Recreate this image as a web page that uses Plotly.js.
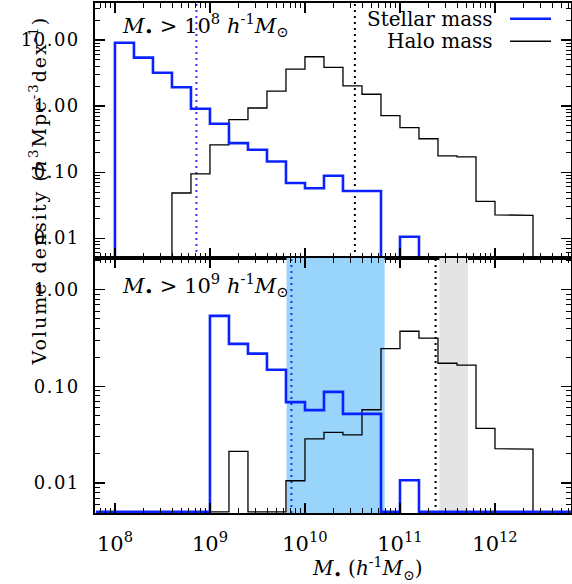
<!DOCTYPE html>
<html>
<head>
<meta charset="utf-8">
<script src="https://cdn.plot.ly/plotly-3.0.1.min.js"></script>
<style>html,body{margin:0;padding:0;background:#fff;}#chart{width:572px;height:584px;}</style>
</head>
<body>
<div id="chart"></div>
<script>
// ---- DATA ----
// log10 bin edges: first edge and bin width (dex)
var binStartLog = 7.8;
var binWidthLog = 0.2;
// Top panel (M* > 1e8): volume density per bin (0 = empty bin)
var topStellar = [0, 9.1, 5.4, 3.2, 1.93, 0.91, 0.54, 0.275, 0.218, 0.145, 0.0686, 0.0569, 0.088, 0.0517, 0.0517, 0, 0.0105, 0, 0, 0, 0, 0, 0, 0, 0];
var topHalo    = [0, 0, 0, 0, 0.0483, 0.094, 0.259, 0.622, 0.935, 1.68, 3.62, 5.58, 3.84, 2.02, 1.51, 0.716, 0.47, 0.32, 0.176, 0.17, 0.036, 0.0226, 0.0221, 0, 0];
// Bottom panel (M* > 1e9)
var botStellar = [0, 0, 0, 0, 0, 0, 0.538, 0.276, 0.219, 0.149, 0.0689, 0.0569, 0.088, 0.052, 0.052, 0, 0.0107, 0, 0, 0, 0, 0, 0, 0, 0];
var botHalo    = [0, 0, 0, 0, 0, 0, 0, 0.0213, 0, 0, 0.01057, 0.0287, 0.0334, 0.0316, 0.0574, 0.247, 0.373, 0.316, 0.174, 0.166, 0.0368, 0.0227, 0.0225, 0, 0];
// vertical dotted markers (mass values)
var topStellarCut = 7.2e8;
var topHaloCut = 3.35e10;
var botStellarCut = 7.2e9;
var botHaloCut = 2.37e11;
// shaded mass ranges in bottom panel
var blueBand = [6.4e9, 6.9e10];
var grayBand = [2.6e11, 5.2e11];
// tick labels
var yTopVals = [0.01, 0.1, 1, 10];
var yTopText = ['0.01', '0.10', '1.00', '10.00'];
var yBotVals = [0.01, 0.1, 1];
var yBotText = ['0.01', '0.10', '1.00'];
var xVals = [1e8, 1e9, 1e10, 1e11, 1e12];
var xText = ['10<sup>8</sup>', '10<sup>9</sup>', '10<sup>10</sup>', '10<sup>11</sup>', '10<sup>12</sup>'];

// ---- STYLE / LAYOUT ----
var FONT = 'DejaVu Serif, Liberation Serif, serif';
var BLUE = '#0a22ff';
var xRange = [7.79, 12.8];
var yTopRange = [-2.30, 1.56];
var yBotRange = [-2.31, 0.33];

function spaced(t, px) { return '<span style="letter-spacing:' + px + 'px">' + t + '</span>'; }

function stepXY(vals, floorVal) {
  var xs = [], ys = [];
  var e0 = Math.pow(10, binStartLog);
  xs.push(e0); ys.push(floorVal);
  for (var i = 0; i < vals.length; i++) {
    var a = Math.pow(10, binStartLog + i * binWidthLog);
    var b = Math.pow(10, binStartLog + (i + 1) * binWidthLog);
    var v = vals[i] > 0 ? vals[i] : floorVal;
    xs.push(a); ys.push(v);
    xs.push(b); ys.push(v);
  }
  xs.push(Math.pow(10, binStartLog + vals.length * binWidthLog)); ys.push(floorVal);
  return {x: xs, y: ys};
}

var topFloor = Math.pow(10, yTopRange[0] + 0.012);
var botFloor = Math.pow(10, yBotRange[0] + 0.012);
var topYmin = Math.pow(10, yTopRange[0]), topYmax = Math.pow(10, yTopRange[1]);
var botYmin = Math.pow(10, yBotRange[0]), botYmax = Math.pow(10, yBotRange[1]);

function band(r, color, xa, ya, ymin, ymax) {
  return {x: [r[0], r[1], r[1], r[0], r[0]], y: [ymin, ymin, ymax, ymax, ymin],
    fill: 'toself', fillcolor: color, line: {width: 0}, mode: 'lines',
    xaxis: xa, yaxis: ya, hoverinfo: 'skip', showlegend: false};
}
function vline(xv, color, xa, ya, ymin, ymax) {
  return {x: [xv, xv], y: [ymin, ymax], mode: 'lines',
    line: {color: color, width: 2, dash: '2px,4px'},
    xaxis: xa, yaxis: ya, hoverinfo: 'skip', showlegend: false};
}
function hist(vals, floorVal, color, w, xa, ya) {
  var s = stepXY(vals, floorVal);
  return {x: s.x, y: s.y, mode: 'lines', line: {color: color, width: w, shape: 'linear'},
    xaxis: xa, yaxis: ya, hoverinfo: 'skip', showlegend: false};
}

var traces = [
  band(blueBand, '#99d5fa', 'x2', 'y2', botYmin, botYmax),
  band(grayBand, '#e4e4e4', 'x2', 'y2', botYmin, botYmax),
  vline(topStellarCut, '#5522ee', 'x', 'y', topYmin, topYmax),
  vline(topHaloCut, '#000000', 'x', 'y', topYmin, topYmax),
  vline(botStellarCut, '#2233ee', 'x2', 'y2', botYmin, botYmax),
  vline(botHaloCut, '#000000', 'x2', 'y2', botYmin, botYmax),
  hist(topHalo, topFloor, '#000000', 1.3, 'x', 'y'),
  hist(topStellar, topFloor, BLUE, 2.6, 'x', 'y'),
  hist(botHalo, botFloor, '#000000', 1.3, 'x2', 'y2'),
  hist(botStellar, botFloor, BLUE, 2.6, 'x2', 'y2')
];

function minorLog(lo, hi) {
  var out = [];
  for (var d = Math.floor(lo); d <= Math.ceil(hi); d++) {
    for (var m = 2; m <= 9; m++) out.push(m * Math.pow(10, d));
  }
  return out;
}

function xAxis(anchor, showLabels) {
  return {
    type: 'log', range: xRange, anchor: anchor, domain: [0, 1],
    tickmode: 'array', tickvals: xVals, ticktext: xText, showticklabels: showLabels,
    ticks: 'inside', ticklen: 10, tickwidth: 1.2, tickcolor: '#000',
    minor: {tickmode: 'array', tickvals: minorLog(7, 13), ticks: 'inside', ticklen: 5, tickwidth: 1, tickcolor: '#000'},
    showline: true, linecolor: '#000', linewidth: 1.6, mirror: 'allticks',
    showgrid: false, zeroline: false, ticklabelstandoff: 11,
    tickfont: {family: FONT, size: 21, color: '#000'}
  };
}
function yAxis(anchor, dom, range, vals, text) {
  return {
    type: 'log', range: range, anchor: anchor, domain: dom,
    tickmode: 'array', tickvals: vals, ticktext: text.map(function (t) { return spaced(t, 1.5); }),
    ticks: 'inside', ticklen: 10, tickwidth: 1.2, tickcolor: '#000',
    minor: {tickmode: 'array', tickvals: minorLog(-3, 2), ticks: 'inside', ticklen: 5, tickwidth: 1, tickcolor: '#000'},
    showline: true, linecolor: '#000', linewidth: 1.6, mirror: 'allticks',
    showgrid: false, zeroline: false, ticklabelstandoff: 10,
    tickfont: {family: FONT, size: 18, color: '#000'}
  };
}

var layout = {
  width: 572, height: 584,
  margin: {l: 95, r: 1, t: 3, b: 71, pad: 0},
  paper_bgcolor: '#fff', plot_bgcolor: '#fff',
  showlegend: false,
  font: {family: FONT, color: '#000'},
  xaxis: xAxis('y', false),
  yaxis: yAxis('x', [0.5, 1], yTopRange, yTopVals, yTopText),
  xaxis2: xAxis('y2', true),
  yaxis2: yAxis('x2', [0, 0.5], yBotRange, yBotVals, yBotText),
  shapes: [
    {type: 'line', xref: 'paper', yref: 'paper', x0: 0.872, x1: 0.958, y0: 0.969, y1: 0.969, line: {color: BLUE, width: 2.6}},
    {type: 'line', xref: 'paper', yref: 'paper', x0: 0.872, x1: 0.958, y0: 0.925, y1: 0.925, line: {color: '#000', width: 1.3}}
  ],
  annotations: [
    {xref: 'paper', yref: 'paper', x: 0.052, y: 0.957, xanchor: 'left', yanchor: 'middle', showarrow: false,
     text: '<i>M</i><sub>•</sub> > 10<sup>8</sup> <i>h</i><sup>-1</sup><i>M</i><sub>⊙</sub>', font: {family: FONT, size: 21, color: '#000'}},
    {xref: 'paper', yref: 'paper', x: 0.052, y: 0.447, xanchor: 'left', yanchor: 'middle', showarrow: false,
     text: '<i>M</i><sub>•</sub> > 10<sup>9</sup> <i>h</i><sup>-1</sup><i>M</i><sub>⊙</sub>', font: {family: FONT, size: 21, color: '#000'}},
    {xref: 'paper', yref: 'paper', x: 0.840, y: 0.969, xanchor: 'right', yanchor: 'middle', showarrow: false,
     text: 'Stellar mass', font: {family: FONT, size: 20, color: '#000'}},
    {xref: 'paper', yref: 'paper', x: 0.840, y: 0.925, xanchor: 'right', yanchor: 'middle', showarrow: false,
     text: 'Halo mass', font: {family: FONT, size: 20, color: '#000'}},
    {xref: 'paper', yref: 'paper', x: -0.12, y: 0.632, xanchor: 'center', yanchor: 'middle', showarrow: false, textangle: -90,
     text: spaced('Volume density (<i>h</i><sup>3</sup>Mpc<sup>-3</sup>dex<sup>-1</sup>)', 2), font: {family: FONT, size: 19, color: '#000'}},
    {xref: 'paper', yref: 'paper', x: 0.571, y: -0.108, xanchor: 'center', yanchor: 'middle', showarrow: false,
     text: '<i>M</i><sub>•</sub> (<i>h</i><sup>-1</sup><i>M</i><sub>⊙</sub>)', font: {family: FONT, size: 20, color: '#000'}}
  ]
};

Plotly.newPlot('chart', traces, layout, {staticPlot: true, displayModeBar: false});
</script>
</body>
</html>
